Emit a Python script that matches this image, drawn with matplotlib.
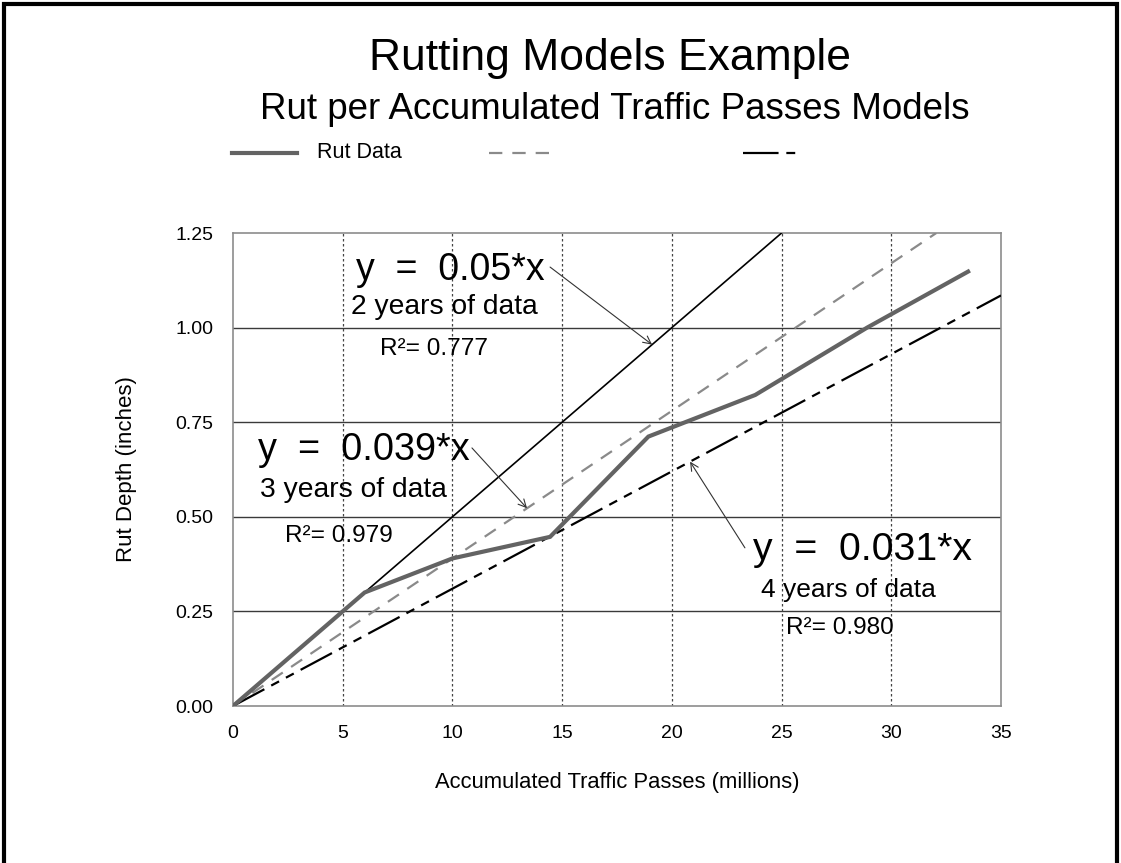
import matplotlib
matplotlib.use('Agg')
import matplotlib.pyplot as plt
from matplotlib.lines import Line2D
from matplotlib.patches import Rectangle

plt.rcParams['font.family'] = ['Liberation Sans', 'DejaVu Sans']

# rut measurements (millions of passes, inches)
traffic = [0, 6.0, 10.0, 14.45, 18.93, 23.8, 28.9, 33.5]
rut = [0, 0.30, 0.39, 0.447, 0.712, 0.822, 1.0, 1.148]

# linear models: slope, x end, label lines, R2
slopes = [0.05, 0.039, 0.031]
model_x_end = [25.0, 32.05, 35.0]
model_years = ['2 years of data', '3 years of data', '4 years of data']
model_r2 = ['0.777', '0.979', '0.980']

x_ticks = [0, 5, 10, 15, 20, 25, 30, 35]
y_ticks = [0.00, 0.25, 0.50, 0.75, 1.00, 1.25]

fig = plt.figure(figsize=(11.21, 8.63), dpi=100)
ax = fig.add_axes([233 / 1121, 157 / 863, 768 / 1121, 473 / 863])

# model lines
ax.plot([0, model_x_end[0]], [0, slopes[0] * model_x_end[0]], color='black', lw=1.2, zorder=3)
ax.plot([0, model_x_end[1]], [0, slopes[1] * model_x_end[1]], color='#8a8a8a', lw=1.6,
        dashes=(6, 4.5), zorder=3)
ax.plot([0, model_x_end[2]], [0, slopes[2] * model_x_end[2]], color='black', lw=1.6,
        dashes=(16, 3.5, 4, 3.5, 4, 3.5), zorder=3)
# rut data
ax.plot(traffic, rut, color='#636363', lw=3, solid_joinstyle='miter', zorder=4)

ax.set_xlim(0, 35)
ax.set_ylim(0, 1.25)
ax.set_xticks(x_ticks)
ax.set_yticks(y_ticks)
ax.set_yticklabels([f'{v:.2f}' for v in y_ticks])
ax.tick_params(length=0, labelsize=14, pad=14)
ax.tick_params(axis='y', pad=14)
for s in ax.spines.values():
    s.set_color('#8c8c8c')
    s.set_linewidth(1.2)

for yv in y_ticks[1:-1]:
    ax.axhline(yv, color='#3a3a3a', lw=1.0, zorder=1)
for xv in x_ticks[1:-1]:
    ax.axvline(xv, color='#444444', lw=0.9, ls=(0, (2, 2)), zorder=1)

ax.set_xlabel('Accumulated Traffic Passes (millions)', fontsize=15.8, labelpad=21)
ax.set_ylabel('Rut Depth (inches)', fontsize=16, labelpad=28)

# equation labels
eq_pos = [(9.89, 1.126), (5.97, 0.650), (28.71, 0.386)]
eq_size = [27, 27.3, 28.3]
yrs_pos = [(9.62, 1.036), (5.47, 0.553), (28.03, 0.289)]
yrs_size = [20.3, 20.3, 19]
r2_pos = [(9.16, 0.928), (4.83, 0.434), (27.66, 0.190)]
arrow_tail = [(14.45, 1.160), (10.89, 0.682), (23.33, 0.418)]
arrow_tip_x = [19.1, 13.4, 20.83]

for i in range(3):
    ax.text(eq_pos[i][0], eq_pos[i][1], f'y  =  {slopes[i]:g}*x', fontsize=eq_size[i],
            ha='center', va='baseline', zorder=5)
    ax.text(yrs_pos[i][0], yrs_pos[i][1], model_years[i], fontsize=yrs_size[i],
            ha='center', va='baseline', zorder=5)
    ax.text(r2_pos[i][0], r2_pos[i][1], f'R²= {model_r2[i]}', fontsize=17.6,
            ha='center', va='baseline', zorder=5)
    ax.annotate('', xy=(arrow_tip_x[i], slopes[i] * arrow_tip_x[i]), xytext=arrow_tail[i],
                arrowprops=dict(arrowstyle='->', color='#333333', lw=0.8,
                                shrinkA=0, shrinkB=0, mutation_scale=14), zorder=5)

# titles
fig.text(610 / 1121, 1 - 70 / 863, 'Rutting Models Example', fontsize=32,
         ha='center', va='baseline')
fig.text(615 / 1121, 1 - 119 / 863, 'Rut per Accumulated Traffic Passes Models', fontsize=26.5,
         ha='center', va='baseline')

# legend row
ly = 1 - 153 / 863
fig.add_artist(Line2D([232 / 1121, 297 / 1121], [ly, ly], color='#636363', lw=3))
fig.text(317 / 1121, ly, 'Rut Data', fontsize=15.5, ha='left', va='center')
fig.add_artist(Line2D([489 / 1121, 552 / 1121], [ly, ly], color='#8a8a8a', lw=1.6,
                      dashes=(6, 4.5)))
fig.add_artist(Line2D([743 / 1121, 801 / 1121], [ly, ly], color='black', lw=1.6,
                      dashes=(16, 3.5, 4, 3.5, 4, 3.5)))

# outer border
fig.add_artist(Rectangle((3.5 / 1121, -0.1), 1113 / 1121, 1.1 - 4.5 / 863,
                         transform=fig.transFigure, fill=False, lw=3, ec='black'))

fig.savefig('out.png', dpi=100)
